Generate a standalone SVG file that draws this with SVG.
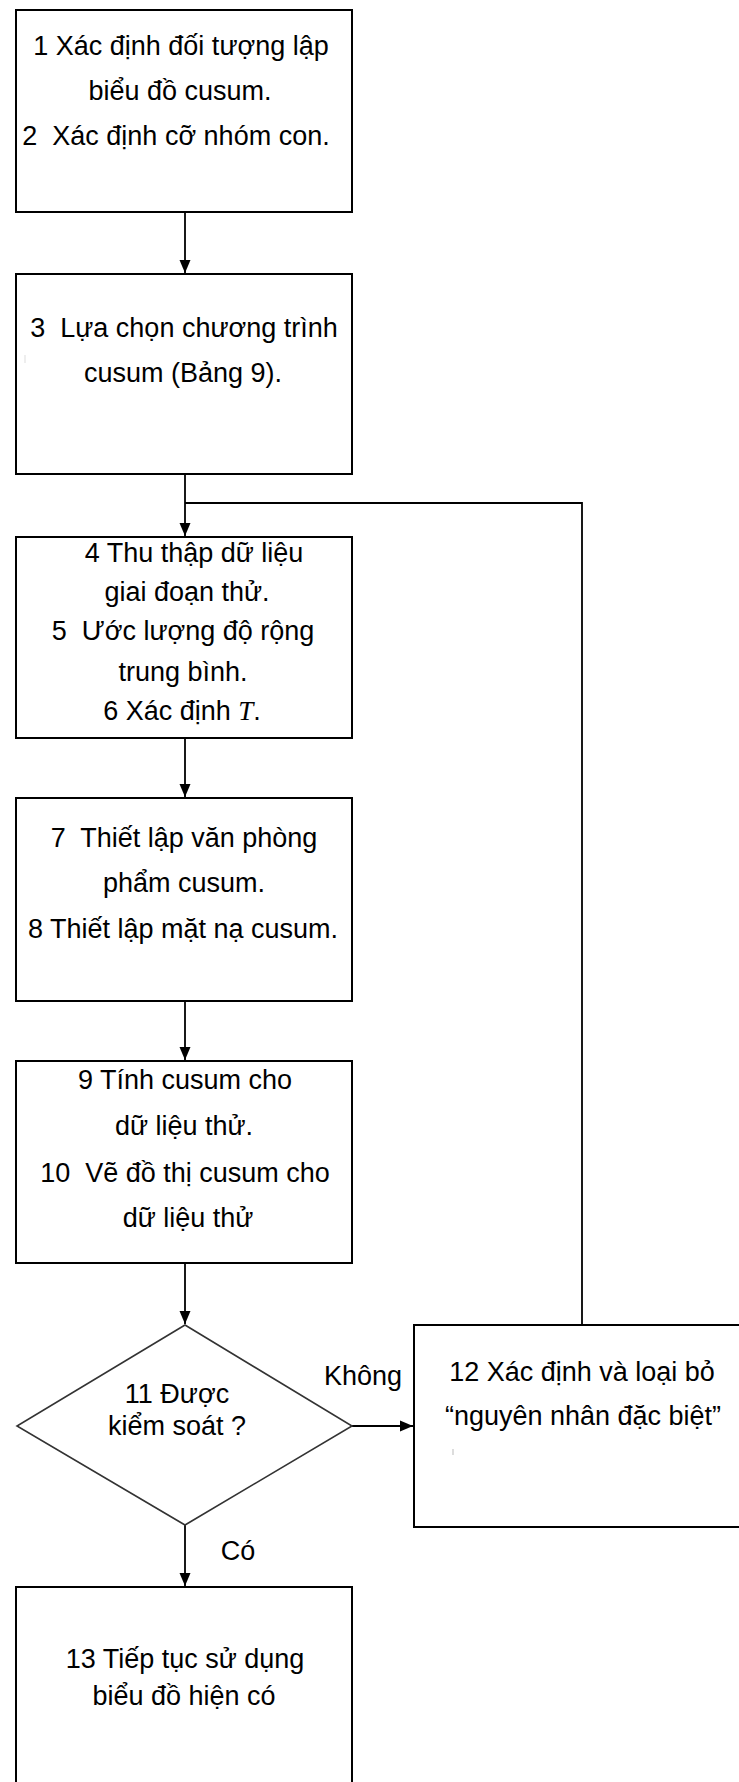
<svg xmlns="http://www.w3.org/2000/svg" width="739" height="1782" viewBox="0 0 739 1782">
<style>
.box{fill:#fff;stroke:#000;stroke-width:2}
.dia{fill:#fff;stroke:#333;stroke-width:1.6}
.t{font-family:"Liberation Sans",Arial,sans-serif;font-size:27px;fill:#000;text-anchor:middle}
.it{font-family:"Liberation Serif","Times New Roman",serif;font-style:italic}
.c{fill:none;stroke:#000;stroke-width:1.8}
</style>
<defs>
<marker id="ah" markerUnits="userSpaceOnUse" markerWidth="14" markerHeight="14" viewBox="0 0 14 14" refX="13" refY="7" orient="auto">
<path d="M0,1.5 L13,7 L0,12.5 Z" fill="#000"/>
</marker>
</defs>
<rect width="739" height="1782" fill="#fff"/>
<g id="connectors">
<path class="c" d="M185,212 V273" marker-end="url(#ah)"/>
<path class="c" d="M185,474 V536" marker-end="url(#ah)"/>
<path class="c" d="M582,1325 V503 H185"/>
<path class="c" d="M185,738 V797" marker-end="url(#ah)"/>
<path class="c" d="M185,1001 V1060" marker-end="url(#ah)"/>
<path class="c" d="M185,1263 V1324" marker-end="url(#ah)"/>
<path class="c" d="M185,1525 V1586" marker-end="url(#ah)"/>
<path class="c" d="M352,1426 H413" marker-end="url(#ah)"/>
<text class="t" x="363" y="1385">Không</text>
<text class="t" x="238" y="1560">Có</text>
</g>
<g id="n1">
<rect class="box" x="16" y="10" width="336" height="202"/>
<text class="t" x="181" y="55">1 Xác định đối tượng lập</text>
<text class="t" x="180" y="100">biểu đồ cusum.</text>
<text class="t" x="176" y="145">2&#160; Xác định cỡ nhóm con.</text>
</g>
<g id="n3">
<rect class="box" x="16" y="274" width="336" height="200"/>
<text class="t" x="184" y="337">3&#160; Lựa chọn chương trình</text>
<text class="t" x="183" y="382">cusum (Bảng 9).</text>
<path d="M25,355 V363" stroke="#ddd" stroke-width="1"/>
</g>
<g id="n4">
<rect class="box" x="16" y="537" width="336" height="201"/>
<text class="t" x="194" y="562">4 Thu thập dữ liệu</text>
<text class="t" x="187" y="601">giai đoạn thử.</text>
<text class="t" x="183" y="640">5&#160; Ước lượng độ rộng</text>
<text class="t" x="183" y="681">trung bình.</text>
<text class="t" x="182" y="720">6 Xác định <tspan class="it">T</tspan>.</text>
</g>
<g id="n7">
<rect class="box" x="16" y="798" width="336" height="203"/>
<text class="t" x="184" y="847">7&#160; Thiết lập văn phòng</text>
<text class="t" x="184" y="892">phẩm cusum.</text>
<text class="t" x="183" y="938">8 Thiết lập mặt nạ cusum.</text>
</g>
<g id="n9">
<rect class="box" x="16" y="1061" width="336" height="202"/>
<text class="t" x="185" y="1089">9 Tính cusum cho</text>
<text class="t" x="184" y="1135">dữ liệu thử.</text>
<text class="t" x="185" y="1182">10&#160; Vẽ đồ thị cusum cho</text>
<text class="t" x="188" y="1227">dữ liệu thử</text>
</g>
<g id="n11">
<polygon class="dia" points="185,1325 352,1426 185,1525 17,1426"/>
<text class="t" x="177" y="1403">11 Được</text>
<text class="t" x="177" y="1435">kiểm soát ?</text>
</g>
<g id="n12">
<rect class="box" x="414" y="1325" width="340" height="202"/>
<text class="t" x="582" y="1381">12 Xác định và loại bỏ</text>
<text class="t" x="583" y="1425">“nguyên nhân đặc biệt”</text>
<path d="M453,1449 V1455" stroke="#bbb" stroke-width="1"/>
</g>
<g id="n13">
<rect class="box" x="16" y="1587" width="336" height="220"/>
<text class="t" x="185" y="1668">13 Tiếp tục sử dụng</text>
<text class="t" x="184" y="1705">biểu đồ hiện có</text>
</g>
</svg>
